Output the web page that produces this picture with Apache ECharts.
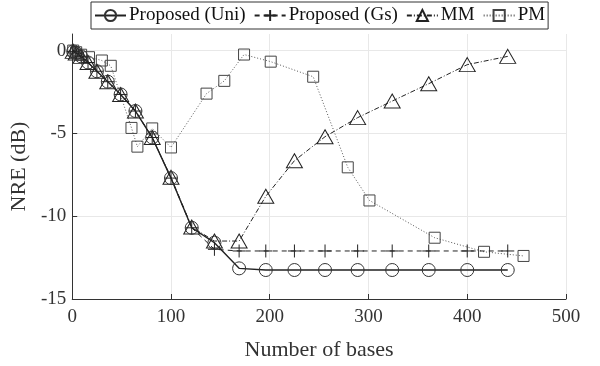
<!DOCTYPE html>
<html><head><meta charset="utf-8">
<script src="https://cdn.jsdelivr.net/npm/echarts@6/dist/echarts.min.js"></script>
<style>html,body{margin:0;padding:0;background:#fff}#c{width:600px;height:366px}</style>
</head><body><div id="c"></div>
<script>
const bases = [1,4,9,16,25,36,49,64,81,100,121,144,169,196,225,256,289,324,361,400,441];
const uniNRE = [-0.05,-0.15,-0.35,-0.72,-1.25,-1.88,-2.65,-3.65,-5.25,-7.7,-10.7,-11.6,-13.15,-13.25,-13.25,-13.25,-13.25,-13.25,-13.25,-13.25,-13.25];
const gsNRE = [-0.05,-0.15,-0.35,-0.72,-1.25,-1.88,-2.65,-3.65,-5.25,-7.7,-10.7,-12.0,-12.1,-12.1,-12.1,-12.1,-12.1,-12.1,-12.1,-12.1,-12.1];
const mmNRE = [-0.05,-0.15,-0.35,-0.72,-1.25,-1.88,-2.65,-3.65,-5.25,-7.65,-10.65,-11.5,-11.5,-8.8,-6.65,-5.2,-4.05,-3.05,-2.0,-0.85,-0.35];
const pmBases = [1,4,9,17,30,39,60,66,81,100,136,154,174,201,244,279,301,367,417,457];
const pmNRE = [0,-0.1,-0.25,-0.4,-0.6,-0.92,-4.67,-5.8,-4.7,-5.85,-2.6,-1.83,-0.24,-0.67,-1.58,-7.05,-9.05,-11.3,-12.15,-12.4];
const xTicks = [0,100,200,300,400,500];
const yTicks = [-15,-10,-5,0];

const pair = (xs, ys) => xs.map((x, i) => [x, ys[i]]);
const FONT = 'Liberation Serif';
const crossPath = 'path://M0,5L10,5M5,0L5,10';

const chart = echarts.init(document.getElementById('c'), null, {renderer: 'canvas'});
chart.setOption({
  animation: false,
  textStyle: {fontFamily: FONT},
  legend: {
    top: 2, left: 91,
    itemWidth: 31, itemHeight: 14, itemGap: 8,
    padding: [4, 3, 4, 3],
    borderColor: '#333', borderWidth: 1,
    textStyle: {fontFamily: FONT, fontSize: 19, color: '#111', padding: [0, 0, 0, -2]},
    data: ['Proposed (Uni)', 'Proposed (Gs)', 'MM', 'PM']
  },
  grid: {left: 71, right: 34, top: 34, bottom: 61, containLabel: false},
  xAxis: {
    type: 'value', min: 0, max: 500, interval: 100,
    name: 'Number of bases', nameLocation: 'middle', nameGap: 40,
    nameTextStyle: {fontFamily: FONT, fontSize: 22, color: '#333'},
    axisLine: {show: true, onZero: false, lineStyle: {color: '#333', width: 1}},
    axisTick: {show: true, inside: true, length: 5, lineStyle: {color: '#333'}},
    axisLabel: {fontFamily: FONT, fontSize: 19, color: '#333', margin: 9,
      formatter: v => xTicks.includes(v) ? String(v) : ''},
    splitLine: {show: true, lineStyle: {color: '#e8e8e8', width: 1}}
  },
  yAxis: {
    type: 'value', min: -15, max: 1, interval: 5,
    name: 'NRE (dB)', nameLocation: 'middle', nameGap: 33, nameRotate: 90,
    nameTextStyle: {fontFamily: FONT, fontSize: 22, color: '#333'},
    axisLine: {show: true, onZero: false, lineStyle: {color: '#333', width: 1}},
    axisTick: {show: true, inside: true, length: 5, lineStyle: {color: '#333'}},
    axisLabel: {fontFamily: FONT, fontSize: 19, color: '#333', margin: 6, showMaxLabel: false,
      formatter: v => yTicks.includes(v) ? String(v) : ''},
    splitLine: {show: true, showMaxLine: false, lineStyle: {color: '#e8e8e8', width: 1}}
  },
  series: [
    {
      name: 'Proposed (Uni)', type: 'line', data: pair(bases, uniNRE),
      symbol: 'circle', symbolSize: 13, z: 4,
      lineStyle: {color: '#222', width: 1.4, type: 'solid'},
      itemStyle: {color: 'rgba(0,0,0,0)', borderColor: '#333', borderWidth: 1}
    },
    {
      name: 'Proposed (Gs)', type: 'line', data: pair(bases, gsNRE),
      symbol: crossPath, symbolSize: 13, z: 3,
      lineStyle: {color: '#222', width: 1, type: [5, 4]},
      itemStyle: {color: 'rgba(0,0,0,0)', borderColor: '#222', borderWidth: 1}
    },
    {
      name: 'MM', type: 'line', data: pair(bases, mmNRE),
      symbol: 'triangle', symbolSize: [16, 14], z: 3,
      lineStyle: {color: '#222', width: 1, type: [5, 2, 1, 2]},
      itemStyle: {color: 'rgba(0,0,0,0)', borderColor: '#222', borderWidth: 1}
    },
    {
      name: 'PM', type: 'line', data: pair(pmBases, pmNRE),
      symbol: 'rect', symbolSize: 11, z: 2,
      lineStyle: {color: '#555', width: 1, type: [1, 2]},
      itemStyle: {color: 'rgba(0,0,0,0)', borderColor: '#444', borderWidth: 1}
    }
  ]
});
</script>
</body></html>
